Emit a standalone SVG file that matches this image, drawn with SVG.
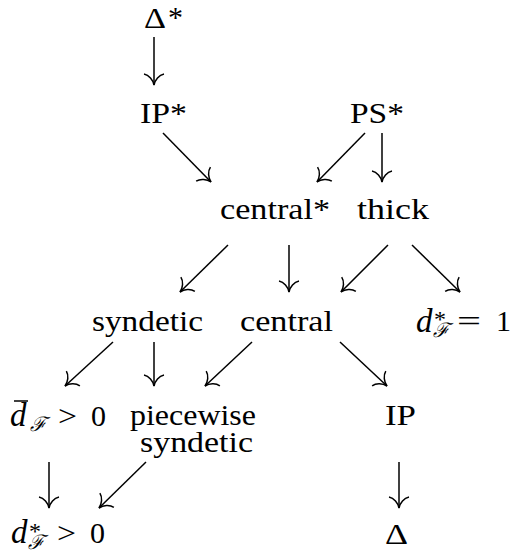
<svg xmlns="http://www.w3.org/2000/svg" width="516" height="556" viewBox="0 0 516 556">
<style>
  .t { font-family: 'Liberation Serif', serif; font-size: 30px; fill: #000; }
  .m { font-family: 'Liberation Serif', serif; font-size: 33px; font-style: italic; fill: #000; }
  .sup { font-family: 'Liberation Serif', serif; font-size: 24px; fill: #000; }
  .scr { font-family: 'DejaVu Serif', serif; font-size: 20px; font-style: italic; fill: #000; }
  .c line { stroke: #000; stroke-width: 1.5; fill: none; marker-end: url(#ah); }
</style>
<defs>
  <marker id="ah" viewBox="-14 -12 16 24" refX="0" refY="0" markerWidth="16" markerHeight="24" markerUnits="userSpaceOnUse" orient="auto">
    <path d="M-11,-10 C-10,-5 -5,-1 0,0 C-5,1 -10,5 -11,10" fill="none" stroke="#000" stroke-width="1.5"/>
  </marker>
</defs>
<g id="n-delta-star"><text class="t" x="144" y="28"><tspan textLength="22" lengthAdjust="spacingAndGlyphs">Δ</tspan><tspan x="168" y="27">*</tspan></text></g>
<g id="n-ip-star"><text class="t" x="140" y="123" textLength="47" lengthAdjust="spacingAndGlyphs">IP*</text></g>
<g id="n-ps-star"><text class="t" x="350" y="123" textLength="54" lengthAdjust="spacingAndGlyphs">PS*</text></g>
<g id="n-central-star"><text class="t" x="220" y="219" textLength="110" lengthAdjust="spacingAndGlyphs">central*</text></g>
<g id="n-thick"><text class="t" x="357" y="219" textLength="72" lengthAdjust="spacingAndGlyphs">thick</text></g>
<g id="n-syndetic"><text class="t" x="92" y="331" textLength="111" lengthAdjust="spacingAndGlyphs">syndetic</text></g>
<g id="n-central"><text class="t" x="240" y="331" textLength="93" lengthAdjust="spacingAndGlyphs">central</text></g>
<g id="n-dstar-eq1">
  <text class="m" x="416" y="332">d</text>
  <text class="sup" x="434" y="327">*</text>
  <text class="scr" x="433" y="337">ℱ</text>
  <text class="t" x="457" y="331" textLength="24" lengthAdjust="spacingAndGlyphs">=</text>
  <text class="t" x="496" y="331">1</text>
</g>
<g id="n-dbar-gt0">
  <line x1="14" y1="401" x2="28" y2="401" stroke="#000" stroke-width="1.5"/>
  <text class="m" x="10" y="426">d</text>
  <text class="scr" x="30" y="431">ℱ</text>
  <text class="t" x="58" y="426" textLength="19" lengthAdjust="spacingAndGlyphs">&gt;</text>
  <text class="t" x="91" y="426">0</text>
</g>
<g id="n-piecewise-syndetic">
  <text class="t" x="130" y="425" textLength="126" lengthAdjust="spacingAndGlyphs">piecewise</text>
  <text class="t" x="140" y="452" textLength="113" lengthAdjust="spacingAndGlyphs">syndetic</text>
</g>
<g id="n-ip"><text class="t" x="385" y="425" textLength="31" lengthAdjust="spacingAndGlyphs">IP</text></g>
<g id="n-dstar-gt0">
  <text class="m" x="11" y="543">d</text>
  <text class="sup" x="29" y="539">*</text>
  <text class="scr" x="28" y="549">ℱ</text>
  <text class="t" x="57" y="543" textLength="19" lengthAdjust="spacingAndGlyphs">&gt;</text>
  <text class="t" x="90" y="543">0</text>
</g>
<g id="n-delta"><text class="t" x="385" y="544" textLength="23" lengthAdjust="spacingAndGlyphs">Δ</text></g>
<g id="connectors" class="c">
  <line x1="154" y1="37" x2="154" y2="85"/>
  <line x1="163" y1="133" x2="211" y2="182"/>
  <line x1="365" y1="133" x2="317" y2="182"/>
  <line x1="382" y1="133" x2="382" y2="182"/>
  <line x1="228" y1="245" x2="180" y2="292"/>
  <line x1="289" y1="245" x2="289" y2="292"/>
  <line x1="388" y1="245" x2="341" y2="292"/>
  <line x1="412" y1="245" x2="460" y2="292"/>
  <line x1="113" y1="342" x2="65" y2="386"/>
  <line x1="154" y1="342" x2="154" y2="386"/>
  <line x1="252" y1="342" x2="205" y2="386"/>
  <line x1="340" y1="342" x2="387" y2="386"/>
  <line x1="49" y1="462" x2="49" y2="508"/>
  <line x1="146" y1="462" x2="99" y2="508"/>
  <line x1="399" y1="462" x2="399" y2="508"/>
</g>
</svg>
